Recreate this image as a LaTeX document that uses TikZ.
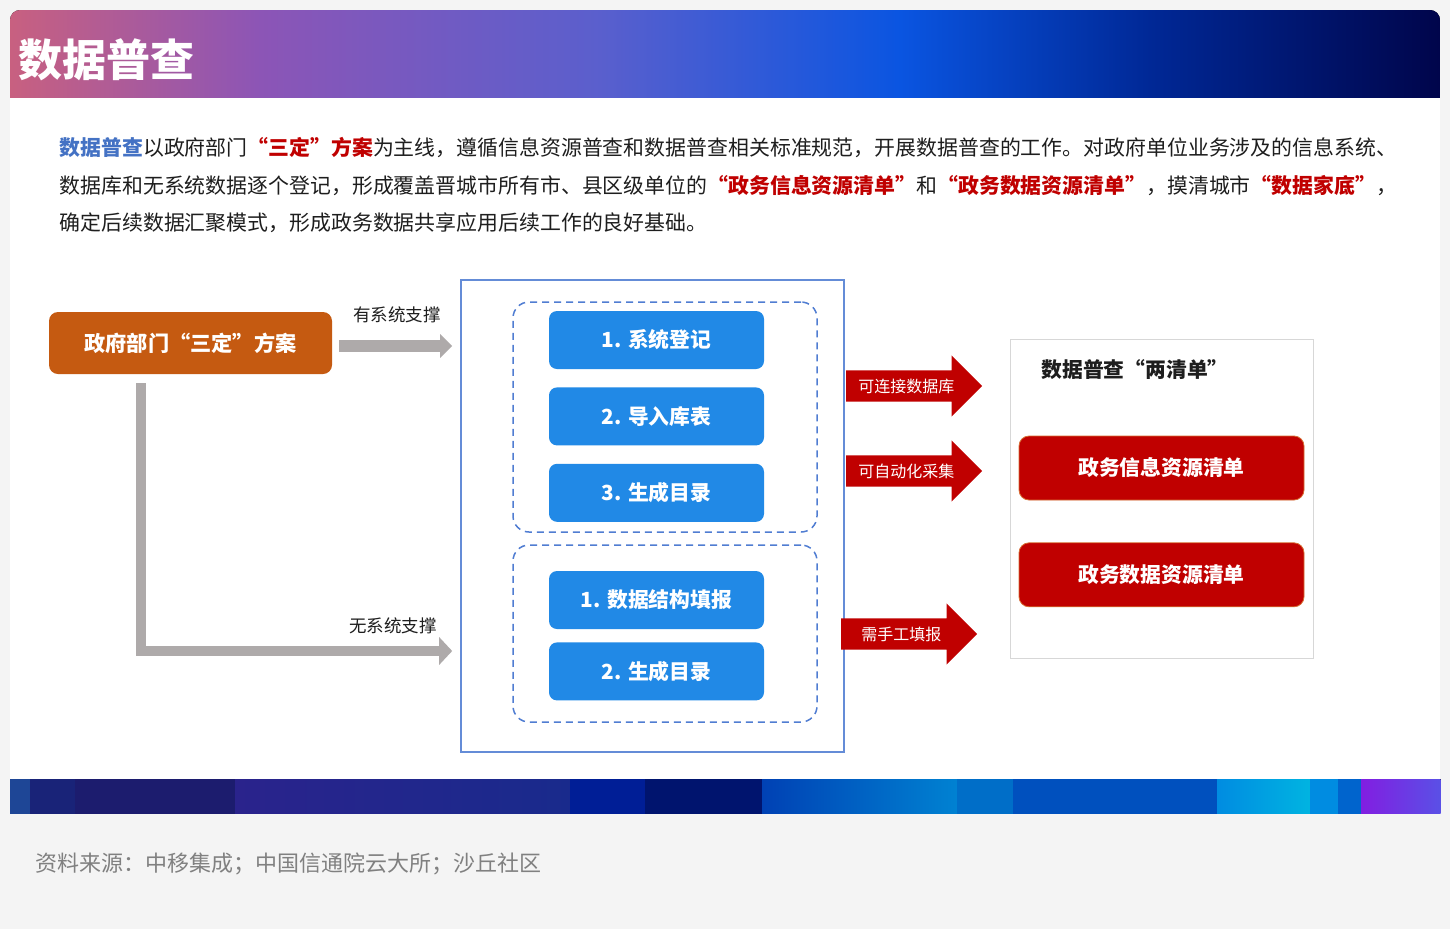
\documentclass[tikz,border=0pt]{standalone}
\usepackage{fontspec}
\setmainfont{Noto Sans CJK SC}
\usepackage{xcolor}
\usetikzlibrary{arrows.meta, positioning, shapes.arrows, calc}
\definecolor{pagegray}{RGB}{244,244,244}
\definecolor{txtdark}{RGB}{30,30,30}
\definecolor{hlblue}{RGB}{68,114,196}
\definecolor{hlred}{RGB}{192,0,0}
\definecolor{govorange}{RGB}{197,90,17}
\definecolor{arrowgray}{RGB}{174,170,170}
\definecolor{frameblue}{RGB}{100,140,215}
\definecolor{dashblue}{RGB}{80,125,210}
\definecolor{btnblue}{RGB}{33,137,230}
\definecolor{listedge}{RGB}{215,110,50}
\definecolor{panelgray}{RGB}{215,215,215}
\definecolor{srcgray}{RGB}{128,128,128}
\definecolor{hdA}{RGB}{200,96,128}
\definecolor{hdB}{RGB}{140,85,182}
\definecolor{hdC}{RGB}{90,95,205}
\definecolor{hdD}{RGB}{10,85,225}
\definecolor{hdE}{RGB}{0,40,150}
\definecolor{hdF}{RGB}{0,5,75}
\definecolor{bnA}{RGB}{30,70,150}
\definecolor{bnB}{RGB}{25,35,120}
\definecolor{bnC}{RGB}{28,28,110}
\definecolor{bnD}{RGB}{42,35,140}
\definecolor{bnE}{RGB}{25,42,140}
\definecolor{bnF}{RGB}{0,30,150}
\definecolor{bnG}{RGB}{0,20,110}
\definecolor{bnH}{RGB}{0,65,180}
\definecolor{bnI}{RGB}{0,130,210}
\definecolor{bnJ}{RGB}{0,110,200}
\definecolor{bnK}{RGB}{0,80,190}
\definecolor{bnL}{RGB}{0,140,225}
\definecolor{bnM}{RGB}{0,180,225}
\definecolor{bnN}{RGB}{0,100,205}
\definecolor{bnO}{RGB}{130,30,225}
\definecolor{bnP}{RGB}{90,80,230}
\newcommand{\parafont}{\fontsize{20.9}{24}\selectfont}
\newcommand{\btnfont}{\bfseries\fontsize{20.8}{24}\selectfont}

\begin{document}
\begin{tikzpicture}[
    x=1pt, y=-1pt,
    govbox/.style={rectangle, rounded corners=9pt, fill=govorange, text=white, font=\bfseries\fontsize{21.2}{24}\selectfont, minimum width=283pt, minimum height=62pt},
    survey/.style={rectangle, draw=frameblue, line width=1.6pt, minimum width=383pt, minimum height=472pt},
    groupbox/.style={rectangle, draw=dashblue, line width=1.5pt, dash pattern=on 7pt off 5pt, rounded corners=16pt, minimum width=304pt},
    stepbtn/.style={rectangle, rounded corners=8pt, fill=btnblue, text=white, font=\btnfont, minimum width=215pt, minimum height=58pt},
    listbox/.style={rectangle, rounded corners=10pt, fill=hlred, draw=listedge, line width=0.8pt, text=white, font=\btnfont, minimum width=285pt, minimum height=64pt},
    panel/.style={rectangle, fill=white, draw=panelgray, line width=1pt, minimum width=303pt, minimum height=319pt},
    redarrow/.style={single arrow, fill=hlred, text=white, font=\fontsize{16}{18}\selectfont, single arrow head extend=15pt, minimum height=136pt, inner ysep=8pt, inner xsep=6pt, anchor=tail},
    grayarrow/.style={draw=arrowgray, line width=12pt, -{Triangle[length=12pt,width=23pt]}},
    grayturn/.style={draw=arrowgray, line width=10pt, line join=miter, -{Triangle[length=13pt,width=27pt]}},
    sidelabel/.style={text=txtdark, font=\fontsize{17.5}{20}\selectfont}
]
\useasboundingbox (0,0) rectangle (1450,929);
\fill[pagegray] (0,0) rectangle (1450,929);
\fill[white] (10,97) rectangle (1440,779);

\begin{scope}
\clip[rounded corners=10pt] (10,10) rectangle (1440,140);
\foreach \xa/\xb/\cl/\cr in {10/260/hdA/hdB, 260/600/hdB/hdC, 600/900/hdC/hdD, 900/1150/hdD/hdE, 1150/1440/hdE/hdF}
  \fill[left color=\cl, right color=\cr] (\xa,10) rectangle (\xb+0.5,97);
\end{scope}
\node[anchor=west, text=white, font=\bfseries\fontsize{44}{47}\selectfont] (title) at (15,60) {数据普查};

\foreach \xa/\xb/\cl/\cr in {10/30/bnA/bnA, 30/75/bnB/bnB, 75/235/bnC/bnC, 235/570/bnD/bnE, 570/645/bnF/bnF, 645/762/bnG/bnG, 762/957/bnH/bnI, 957/1013/bnJ/bnJ, 1013/1217/bnK/bnK, 1217/1310/bnL/bnM, 1310/1338/bnL/bnL, 1338/1361/bnN/bnN, 1361/1440/bnO/bnP}
  \fill[left color=\cl, right color=\cr] (\xa,779) rectangle (\xb+0.5,813);

\node[anchor=west, text=txtdark, font=\parafont] (introa) at (56,148) {{\color{hlblue}\bfseries 数据普查}以政府部门{\color{hlred}\bfseries “三定”方案}为主线，遵循信息资源普查和数据普查相关标准规范，开展数据普查的工作。对政府单位业务涉及的信息系统、};
\node[anchor=west, text=txtdark, font=\parafont] (introb) at (56,186) {数据库和无系统数据逐个登记，形成覆盖晋城市所有市、县区级单位的{\color{hlred}\bfseries “政务信息资源清单”}和{\color{hlred}\bfseries “政务数据资源清单”}，摸清城市{\color{hlred}\bfseries “数据家底”}，};
\node[anchor=west, text=txtdark, font=\parafont] (introc) at (56,223) {确定后续数据汇聚模式，形成政务数据共享应用后续工作的良好基础。};

\node[govbox] (gov) at (190.5,343) {政府部门“三定”方案};
\node[survey] (survey) at (652.5,516) {};
\node[groupbox, minimum height=230pt] (grpsys) at (665,417) {};
\node[groupbox, minimum height=177pt] (grpnone) at (665,633.5) {};
\node[stepbtn] (reg) at (656.5,340) {1. 系统登记};
\node[stepbtn,below=18pt of reg] (imp) {2. 导入库表};
\node[stepbtn,below=18pt of imp] (cat) {3. 生成目录};
\node[stepbtn] (fillin) at (656.5,600) {1. 数据结构填报};
\node[stepbtn,below=13pt of fillin] (cattwo) {2. 生成目录};

\node[sidelabel] (syslabel) at (397,315) {有系统支撑};
\node[sidelabel] (nosyslabel) at (393,626) {无系统支撑};
\coordinate (sysrow) at (0,346);
\coordinate (nosysrow) at (0,651);
\draw[grayarrow] ([xshift=7pt]gov.east |- sysrow) -- ([xshift=-8pt]survey.west |- sysrow);
\draw[grayturn] ($(gov.south west)+(92,9)$) |- ([xshift=-8pt]survey.west |- nosysrow);

\node[redarrow] (dbarrow) at (846,386) {可连接数据库};
\node[redarrow] (autoarrow) at (846,471) {可自动化采集};
\node[redarrow] (handarrow) at (841,634) {需手工填报};

\node[panel] (lists) at (1161.5,498.5) {};
\node[text=txtdark, font=\btnfont] (liststitle) at (1135,370) {数据普查“两清单”};
\node[listbox] (infolist) at (1161.5,468) {政务信息资源清单};
\node[listbox,below=42pt of infolist] (datalist) {政务数据资源清单};

\node[anchor=west, text=srcgray, font=\fontsize{22}{25}\selectfont] (source) at (32,864) {资料来源：中移集成；中国信通院云大所；沙丘社区};
\end{tikzpicture}
\end{document}
